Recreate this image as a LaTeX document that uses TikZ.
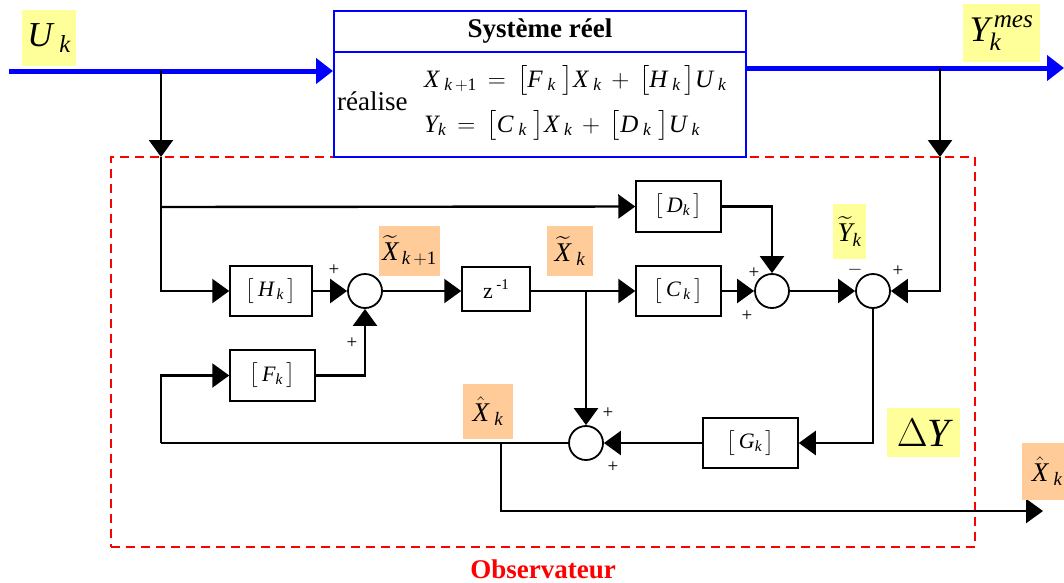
\RequirePackage{fix-cm}
\documentclass[tikz,border=0pt]{standalone}
\usepackage{amsmath}
\usepackage{fontspec}
\setmainfont{Liberation Serif}
\usetikzlibrary{arrows.meta}
\definecolor{ylw}{HTML}{FFFF99}
\definecolor{org}{HTML}{FFCC99}
\newcommand\ti[1]{\textit{#1}}
\newcommand\fs[1]{\fontsize{#1}{#1}\selectfont}
\newcommand\mat[1]{\bigl[\,#1\,\bigr]}
\begin{document}
\begin{tikzpicture}[x=1pt,y=-1pt,
  box/.style={draw, line width=1.5pt, inner sep=0pt, font=\fs{22}},
  sum/.style={circle, draw, line width=1.8pt, minimum size=34pt, inner sep=0pt},
  arr/.style={line width=2.4pt, -{Triangle[length=17pt,width=24pt]}},
  ln/.style={line width=2.4pt},
  barr/.style={blue, line width=5pt, -{Triangle[length=17pt,width=25pt]}},
  lab/.style={inner sep=0pt},
  pm/.style={font=\fs{19}, inner sep=0pt}]
\useasboundingbox (0,0) rectangle (1064,582);

% observer frame
\node[draw=red, line width=1.6pt, dash pattern=on 9pt off 6pt, minimum width=864pt, minimum height=390pt, inner sep=0pt] (obs) at (543,352) {};
\node[font=\fs{27}\bfseries, text=red] (lobs) at (543,569) {Observateur};

% real system
\node[draw=blue, line width=2pt, fill=white, minimum width=412pt, minimum height=146pt, inner sep=0pt] (sys) at (540,84) {};
\draw[blue, line width=2pt] (sys.west |- 0,52) -- (sys.east |- 0,52);
\node[font=\fs{27}\bfseries, anchor=base] (systitle) at (540,37) {Système réel};
\node[font=\fs{27}, anchor=base west, inner sep=0pt] (real) at (337,110) {réalise};
\node[font=\fs{25}, anchor=base west, inner sep=0pt] (eq1) at (424,87)
  {$\ti{X}_{\;\ti{k}\,+\text{1}} \,=\, \bigl[\ti{F}_{\;\ti{k}}\;\bigr]\ti{X}_{\;\ti{k}} \,+\, \bigl[\ti{H}_{\;\ti{k}}\,\bigr]\ti{U}_{\;\ti{k}}$};
\node[font=\fs{25}, anchor=base west, inner sep=0pt] (eq2) at (424,132)
  {$\ti{Y}_{\ti{k}} \,=\, \bigl[\ti{C}_{\;\ti{k}}\;\bigr]\ti{X}_{\;\ti{k}} \,+\, \bigl[\ti{D}_{\;\ti{k}}\;\bigr]\ti{U}_{\;\ti{k}}$};

% blocks
\node[box, minimum width=82pt, minimum height=50pt] (H) at (271,291) {$\mat{\ti{H}_{\,\ti{k}}}$};
\node[box, minimum width=85pt, minimum height=51pt] (F) at (272.5,375.5) {$\mat{\ti{F}_{\ti{k}}}$};
\node[box, minimum width=68pt, minimum height=44pt] (Z) at (496,289) {z\,\raisebox{0.45em}{\fs{15}-1}};
\node[box, minimum width=85pt, minimum height=51pt] (D) at (678.5,206.5) {$\mat{\ti{D}_{\ti{k}}}$};
\node[box, minimum width=85pt, minimum height=50pt] (C) at (678.5,291) {$\mat{\ti{C}_{\,\ti{k}}}$};
\node[box, minimum width=95pt, minimum height=50pt] (G) at (750.5,443) {$\mat{\ti{G}_{\ti{k}}}$};

% summing junctions
\node[sum] (S0) at (365,291) {};
\node[sum] (S1) at (772,291) {};
\node[sum] (S2) at (873,291) {};
\node[sum] (S3) at (586,443) {};

% signs
\node[pm] (p0a) at (334,270) {+};
\node[pm] (p0b) at (352,343) {+};
\node[pm] (p1a) at (754,273) {+};
\node[pm] (p1b) at (747,316) {+};
\node[pm] (p2a) at (855,270) {$-$};
\node[pm] (p2b) at (898,271) {+};
\node[pm] (p3a) at (608,413) {+};
\node[pm] (p3b) at (613,467) {+};

% coordinates
\coordinate (uin) at (9,71);
\coordinate (bu) at (161,71);
\coordinate (bud) at (161,157);
\coordinate (bud2) at (161,207);
\coordinate (yout) at (1064,68);
\coordinate (by) at (940,68);
\coordinate (byd) at (940,157);
\coordinate (bx) at (586,291);
\coordinate (bh) at (161,443);
\coordinate (bxh) at (501,443);
\coordinate (xout) at (1043,511);

% blue signals
\draw[barr] (uin) -- (uin -| sys.west);
\draw[barr] (sys.east |- yout) -- (yout);

% connectors
\draw[arr] (bu) -- (bud);
\draw[ln] (bud) -- (bud2);
\draw[arr] (bud2) -- (D.west);
\draw[arr] (bud2) |- (H.west);
\draw[arr] (by) -- (byd);
\draw[arr] (byd) |- (S2.east);
\draw[arr] (H.east) -- (S0.west);
\draw[arr] (S0.east) -- (Z.west |- S0.east);
\draw[arr] (Z.east |- bx) -- (C.west);
\draw[arr] (bx) -- (S3.north);
\draw[arr] (D.east) -| (S1.north);
\draw[arr] (C.east) -- (S1.west);
\draw[arr] (S1.east) -- (S2.west);
\draw[arr] (S2.south) |- (G.east);
\draw[arr] (G.west) -- (S3.east);
\draw[ln] (S3.west) -- (bh);
\draw[arr] (bh) |- (F.west);
\draw[arr] (F.east) -| (S0.south);
\draw[arr] (bxh) |- (xout);

% signal labels
\node[lab, fill=ylw, minimum width=54pt, minimum height=56pt, font=\fs{35}] (lU) at (49,38) {$\ti{U}_{\;\ti{k}}$};
\node[lab, fill=ylw, minimum width=77pt, minimum height=58pt, font=\fs{36}] (lY) at (1001.5,33) {$\ti{Y}^{\,\ti{mes}}_{\ti{k}}$};
\node[lab, fill=org, minimum width=61pt, minimum height=50pt, font=\fs{27}] (lX1) at (409.5,251) {$\widetilde{\ti{X}}_{\,\ti{k}\,+\text{1}}$};
\node[lab, fill=org, minimum width=46pt, minimum height=50pt, font=\fs{27}] (lX) at (570,251) {$\widetilde{\ti{X}}_{\;\ti{k}}$};
\node[lab, fill=ylw, minimum width=33pt, minimum height=55pt, font=\fs{27}] (lYt) at (849.5,231.5) {$\widetilde{\ti{Y}}_{\ti{k}}$};
\node[lab, fill=ylw, minimum width=73pt, minimum height=49pt, font=\fs{40}] (lDY) at (923.5,432.5) {$\Delta\ti{Y}$};
\node[lab, fill=org, minimum width=50pt, minimum height=55pt, font=\fs{27}] (lXh) at (488,411.5) {$\hat{\ti{X}}_{\;\ti{k}}$};
\node[lab, fill=org, minimum width=50pt, minimum height=57pt, font=\fs{27}, anchor=west] (lXo) at (1022,471.5) {$\hat{\ti{X}}_{\;\ti{k}}$};
\end{tikzpicture}
\end{document}
